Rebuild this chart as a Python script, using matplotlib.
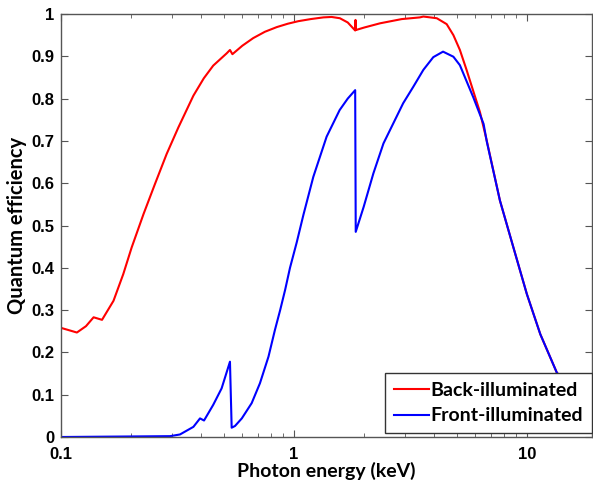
import matplotlib
matplotlib.use('Agg')
import matplotlib.pyplot as plt
from matplotlib.ticker import FixedLocator, NullFormatter

# =========================
# data
# =========================

back_energy = [0.1, 0.117, 0.128, 0.138, 0.150, 0.168, 0.185, 0.201, 0.226, 0.253, 0.284, 0.319,
               0.370, 0.410, 0.450, 0.514, 0.531, 0.544, 0.600, 0.668, 0.750, 0.843, 0.94, 1.043,
               1.18, 1.337, 1.45, 1.573, 1.70, 1.83, 1.836, 1.84, 2.0, 2.34, 2.9, 3.47, 3.59,
               4.10, 4.52, 4.83, 5.15, 5.50, 5.90, 6.28, 6.72, 7.65, 8.74, 9.98, 11.4, 13.4,
               16.0, 20.0]
back_qe = [0.258, 0.247, 0.262, 0.283, 0.277, 0.322, 0.385, 0.448, 0.527, 0.598, 0.669, 0.732,
           0.807, 0.848, 0.878, 0.907, 0.915, 0.905, 0.925, 0.943, 0.958, 0.969, 0.977, 0.983,
           0.988, 0.992, 0.993, 0.990, 0.980, 0.961, 0.986, 0.962, 0.968, 0.978, 0.988, 0.992, 0.994,
           0.990, 0.976, 0.950, 0.915, 0.868, 0.815, 0.768, 0.700, 0.559, 0.448, 0.338, 0.243, 0.153,
           0.095, 0.050]

front_energy = [0.1, 0.294, 0.324, 0.370, 0.395, 0.411, 0.450, 0.489, 0.531, 0.540, 0.558, 0.597,
                0.658, 0.714, 0.777, 0.828, 0.872, 0.916, 0.961, 1.027, 1.097, 1.21, 1.38, 1.57,
                1.70, 1.83, 1.84, 1.99, 2.19, 2.42, 2.67, 2.94, 3.25, 3.59, 3.96, 4.36, 4.83,
                5.15, 5.88, 6.51, 6.72, 7.65, 8.74, 9.98, 11.4, 13.4, 16.0, 20.0]
front_qe = [0.0, 0.002, 0.006, 0.024, 0.044, 0.039, 0.076, 0.115, 0.178, 0.022, 0.026, 0.044,
            0.080, 0.127, 0.190, 0.253, 0.300, 0.348, 0.400, 0.460, 0.525, 0.615, 0.710, 0.773,
            0.800, 0.820, 0.485, 0.544, 0.623, 0.694, 0.742, 0.789, 0.828, 0.868, 0.898, 0.911, 0.899,
            0.879, 0.803, 0.740, 0.698, 0.559, 0.448, 0.338, 0.243, 0.153, 0.095, 0.050]

series_labels = ['Back-illuminated', 'Front-illuminated']
y_ticks = [0, 0.1, 0.2, 0.3, 0.4, 0.5, 0.6, 0.7, 0.8, 0.9, 1.0]
y_tick_labels = ['0', '0.1', '0.2', '0.3', '0.4', '0.5', '0.6', '0.7', '0.8', '0.9', '1']
x_ticks = [0.1, 1, 10]
x_tick_labels = ['0.1', '1', '10']


# =========================
# plot
# =========================

fig = plt.figure(figsize=(5.93, 4.83), dpi=100)
ax = fig.add_axes([61 / 593, 46 / 483, 531 / 593, 423 / 483])

ax.plot(back_energy, back_qe, color='#ff0000', lw=1.5, label=series_labels[0])
ax.plot(front_energy, front_qe, color='#0000ff', lw=1.5, label=series_labels[1])

ax.set_xscale('log')
ax.set_xlim(0.1, 19.0)
ax.set_ylim(0, 1)

ax.xaxis.set_major_locator(FixedLocator(x_ticks))
ax.set_xticklabels(x_tick_labels)
minor = [m * d for d in (0.1, 1, 10) for m in range(2, 10)]
ax.xaxis.set_minor_locator(FixedLocator(minor))
ax.xaxis.set_minor_formatter(NullFormatter())
ax.set_yticks(y_ticks)
ax.set_yticklabels(y_tick_labels)

edge = '#555555'
for s in ax.spines.values():
    s.set_color(edge)
    s.set_linewidth(1.0)
ax.tick_params(which='both', direction='in', top=True, right=True, color=edge)
ax.tick_params(which='major', length=5, labelsize=12)
ax.tick_params(which='minor', length=3)
ax.tick_params(axis='x', which='major', pad=7)
ax.tick_params(axis='y', which='major', pad=5)
for lab in ax.get_xticklabels() + ax.get_yticklabels():
    lab.set_fontfamily('Liberation Sans')
    lab.set_fontweight('bold')

ax.set_xlabel('Photon energy (keV)', fontfamily='Lato', fontweight='bold', fontsize=14, labelpad=0)
ax.set_ylabel('Quantum efficiency', fontfamily='Lato', fontweight='bold', fontsize=14.5, labelpad=3)

leg = ax.legend(loc='lower right', bbox_to_anchor=(1.0, 0.009),
                prop={'family': 'Lato', 'weight': 'bold', 'size': 14},
                fancybox=False, framealpha=1, edgecolor='#333333', handlelength=1.8,
                handletextpad=0.1, borderpad=0.45, labelspacing=0.45, borderaxespad=0.0)
leg.get_frame().set_linewidth(1.0)

plt.savefig('out.png', dpi=100)
plt.close('all')
